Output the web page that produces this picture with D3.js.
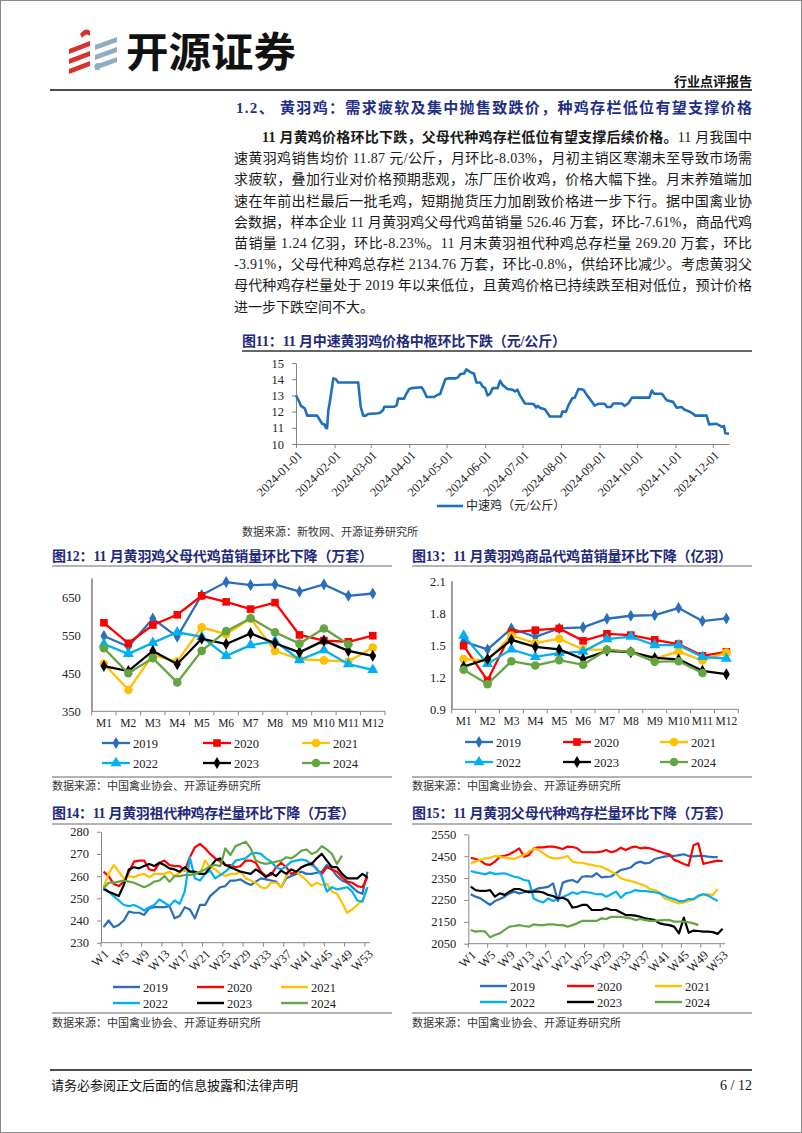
<!DOCTYPE html>
<html><head><meta charset="utf-8">
<script src="https://cdn.jsdelivr.net/npm/d3@7"></script>
<style>html,body{margin:0;padding:0;background:#fff}svg{display:block}</style>
</head><body>
<svg id="page" width="802" height="1133"></svg>
<script>
// ---------------- DATA ----------------
const priceDates = [
 "2024-01-01","2024-01-03","2024-01-05","2024-01-08","2024-01-10","2024-01-18","2024-01-20","2024-01-22","2024-01-24","2024-01-25","2024-01-26","2024-01-27","2024-01-28","2024-01-31",
 "2024-02-02","2024-02-04","2024-02-20","2024-02-22","2024-02-24","2024-02-26","2024-02-28",
 "2024-03-07","2024-03-09","2024-03-11","2024-03-12","2024-03-20","2024-03-22","2024-03-23","2024-03-28","2024-03-29",
 "2024-04-01","2024-04-03","2024-04-11","2024-04-13","2024-04-15","2024-04-21","2024-04-23","2024-04-26","2024-04-27","2024-04-30",
 "2024-05-02","2024-05-08","2024-05-10","2024-05-12","2024-05-15","2024-05-17","2024-05-19","2024-05-21","2024-05-23","2024-05-25","2024-05-28","2024-05-30",
 "2024-06-01","2024-06-03","2024-06-05","2024-06-07","2024-06-11","2024-06-13","2024-06-15","2024-06-19","2024-06-23","2024-06-25","2024-06-27","2024-06-29",
 "2024-07-03","2024-07-10","2024-07-12","2024-07-13","2024-07-16","2024-07-19","2024-07-23",
 "2024-08-01","2024-08-02","2024-08-05","2024-08-07","2024-08-10","2024-08-12","2024-08-15","2024-08-19","2024-08-22","2024-08-24","2024-08-28","2024-08-31",
 "2024-09-05","2024-09-07","2024-09-10","2024-09-12","2024-09-19","2024-09-21","2024-09-24","2024-09-27",
 "2024-10-11","2024-10-13","2024-10-15","2024-10-21","2024-10-25","2024-10-30",
 "2024-11-02","2024-11-06","2024-11-08","2024-11-13","2024-11-17","2024-11-26","2024-11-28",
 "2024-12-04","2024-12-08","2024-12-10","2024-12-11","2024-12-14"];
const priceValues = [
 13.0,12.7,12.35,12.2,11.75,11.75,11.5,11.25,11.2,11.0,10.98,12.1,12.5,14.05,
 14.0,13.8,13.8,12.3,11.75,11.75,11.85,
 11.9,11.95,12.1,12.3,12.3,12.4,12.8,12.8,13.0,
 13.4,13.45,13.5,13.25,12.9,12.9,13.0,13.1,13.35,14.0,
 14.05,14.05,14.1,14.3,14.35,14.6,14.5,14.4,14.35,13.8,13.8,13.55,
 13.45,13.0,13.1,13.45,13.45,13.9,13.65,13.4,13.35,13.25,13.35,13.0,
 12.5,12.47,12.25,12.35,12.2,12.14,11.7,
 11.7,12.0,12.0,12.4,12.82,12.85,13.4,13.35,13.0,12.8,12.37,12.48,
 12.48,12.28,12.28,12.5,12.5,12.35,12.5,12.86,
 12.86,13.3,13.1,13.1,12.7,12.6,
 12.24,12.28,12.13,11.98,11.75,11.75,11.21,
 11.25,11.07,11.1,10.66,10.63];
const priceTickDates = ["2024-01-01","2024-02-01","2024-03-01","2024-04-01","2024-05-01","2024-06-01","2024-07-01","2024-08-01","2024-09-01","2024-10-01","2024-11-01","2024-12-01"];
const priceTicks = [10,11,12,13,14,15];

const months = ["M1","M2","M3","M4","M5","M6","M7","M8","M9","M10","M11","M12"];
const years = ["2019","2020","2021","2022","2023","2024"];

// 图12 父母代鸡苗销量（万套）
const parent2019 = [548,520,594,546,656,690,682,684,665,684,654,660];
const parent2020 = [583,529,577,604,654,638,619,636,551,536,533,549];
const parent2021 = [475,406,498,481,571,553,594,509,487,484,481,518];
const parent2022 = [527,501,530,558,546,496,524,535,485,511,474,459];
const parent2023 = [469,456,509,474,541,527,555,529,505,536,509,496];
const parent2024 = [516,450,490,426,509,561,595,558,528,568,526.46];
const parentTicks = [350,450,550,650];

// 图13 商品代鸡苗销量（亿羽）
const comm2019 = [1.534,1.46,1.656,1.578,1.656,1.666,1.747,1.775,1.78,1.847,1.725,1.75];
const comm2020 = [1.494,1.17,1.62,1.64,1.656,1.54,1.606,1.594,1.55,1.51,1.40,1.438];
const comm2021 = [1.37,1.356,1.59,1.52,1.56,1.46,1.456,1.44,1.375,1.44,1.356,1.43];
const comm2022 = [1.59,1.325,1.46,1.39,1.425,1.44,1.556,1.58,1.50,1.50,1.39,1.375];
const comm2023 = [1.30,1.37,1.55,1.484,1.46,1.37,1.447,1.434,1.38,1.366,1.26,1.228];
const comm2024 = [1.27,1.135,1.35,1.31,1.36,1.316,1.456,1.437,1.344,1.35,1.24];
const commTicks = [0.9,1.2,1.5,1.8,2.1];

// weeks
const weeks = Array.from({length:53},(_, i)=>"W"+(i+1));
const weekLabels = ["W1","W5","W9","W13","W17","W21","W25","W29","W33","W37","W41","W45","W49","W53"];

// 图14 祖代种鸡存栏（万套）
const gp2019 = [237,240,237,238,240,244,243.5,243.5,242.5,245.5,246,246,246,246.5,241,242,246,245,241,247,247,251,253,255,255.5,258,258,258.5,257,256,257.5,259,258.5,258,257.5,255,259,260,261,262,261,261,261.5,262,265,263,260,258,257,255,253,252,262];
const gp2020 = [262,260,256.5,255.5,257.5,262,266.5,267,267,263,262.5,266,267,265,264.5,264.5,262.5,268.5,273,274.5,272.5,270,268,266.5,265,265,264,264.5,267,267,266,262,260,260.5,264,266,264,261,262,264,265,266,263,261,264,263,262,259.5,257.5,257,255.5,255,259.5];
const gp2021 = [255,261,265,262,259,260,259.5,260.5,261,259.5,261,261,261,262,260,261.5,263,262,261,261,267,264,263,261,260,261,261,262,259,258,257,255,254.5,257,257,255,260,263,262,260,258,255.5,257,256,256.5,253,252,248,243.5,245,247,249,255];
const gp2022 = [254,253,251,249,247,246.5,247,246,244.5,246,247,249.5,248,246.5,249,247.5,253,268.5,259,258,261,262.5,259,260.5,262,264,267,267.5,268,270,270.5,270,268,266.5,264,263,264.5,266.5,267,267.5,267,265,263.5,260,253,255,254,254.5,255,253,249,248.5,255];
const gp2023 = [254.5,253,252,251,256,263,264,263.5,264.5,265.5,264.5,266,265,263.5,263,262,264,262,262,261,261,264,267,268,265,264,263,262,261.5,261,263,261.5,259.5,261.5,260,262.5,261,263,262,264,265,265.5,268,270,267,264,264,261,259,259,259,261,259.5];
const gp2024 = [254.5,257,257,257.5,258,257.5,257,256,255,256,257.5,258,260,257.5,260,260,260.5,260.5,261,262,263,264.5,265,264.5,272.5,269.5,273.5,274.5,275.5,272.5,267,266,265.5,266,266.5,267,268.5,268,269.5,271.5,272,270,271,273.5,272,270,265.5,269.2];
const gpTicks = [230,240,250,260,270,280];

// 图15 父母代种鸡存栏（万套）
const ps2019 = [2276,2265,2257,2242,2227,2245,2254,2265,2280,2288,2280,2285,2291,2293,2303,2306,2310,2326,2245,2329,2337,2341,2330,2356,2359,2356,2372,2353,2355,2357,2372,2387,2392,2398,2417,2425,2417,2420,2437,2443,2448,2451,2451,2455,2459,2451,2449,2451,2451,2448,2446,2446];
const ps2020 = [2443,2437,2430,2414,2410,2425,2448,2452,2459,2471,2486,2448,2455,2486,2490,2490,2494,2494,2489,2483,2494,2492,2486,2468,2468,2468,2468,2471,2478,2468,2474,2489,2478,2489,2494,2486,2489,2486,2478,2471,2463,2459,2433,2425,2414,2407,2500,2509,2415,2420,2425,2430,2428];
const ps2021 = [2417,2425,2433,2440,2443,2451,2448,2443,2440,2437,2448,2455,2471,2486,2478,2463,2448,2440,2440,2443,2451,2425,2420,2420,2414,2410,2405,2402,2391,2379,2369,2349,2341,2337,2330,2323,2315,2300,2295,2285,2257,2250,2242,2234,2239,2245,2252,2265,2276,2276,2273,2300];
const ps2022 = [2382,2376,2372,2367,2376,2369,2370,2372,2364,2356,2352,2341,2337,2257,2245,2239,2257,2245,2254,2263,2273,2285,2277,2288,2285,2282,2276,2277,2265,2276,2288,2260,2280,2285,2295,2290,2290,2288,2285,2280,2270,2260,2254,2245,2245,2254,2254,2270,2276,2270,2257,2245];
const ps2023 = [2311,2295,2291,2291,2295,2265,2280,2273,2288,2300,2300,2292,2285,2288,2288,2284,2273,2268,2257,2260,2250,2215,2219,2227,2227,2204,2204,2204,2212,2204,2204,2193,2181,2181,2178,2173,2166,2163,2158,2143,2138,2135,2128,2097,2169,2100,2110,2108,2105,2105,2103,2095,2118];
const ps2024 = [2113,2105,2108,2105,2079,2090,2097,2113,2128,2131,2135,2131,2128,2138,2135,2135,2138,2138,2135,2135,2128,2135,2143,2154,2154,2154,2154,2166,2163,2173,2173,2173,2169,2166,2158,2163,2158,2154,2154,2157,2158,2158,2151,2151,2151,2148,2143,2134.76];
const psTicks = [2050,2150,2250,2350,2450,2550];

const paragraphLines = [
 "速黄羽鸡销售均价 11.87 元/公斤，月环比-8.03%，月初主销区寒潮未至导致市场需",
 "求疲软，叠加行业对价格预期悲观，冻厂压价收鸡，价格大幅下挫。月末养殖端加",
 "速在年前出栏最后一批毛鸡，短期抛货压力加剧致价格进一步下行。据中国禽业协",
 "会数据，样本企业 11 月黄羽鸡父母代鸡苗销量 526.46 万套，环比-7.61%，商品代鸡",
 "苗销量 1.24 亿羽，环比-8.23%。11 月末黄羽祖代种鸡总存栏量 269.20 万套，环比",
 "-3.91%，父母代种鸡总存栏 2134.76 万套，环比-0.8%，供给环比减少。考虑黄羽父",
 "母代种鸡存栏量处于 2019 年以来低位，且黄鸡价格已持续跌至相对低位，预计价格",
 "进一步下跌空间不大。"];

// ---------------- STYLE ----------------
const svg = d3.select("#page");
const FONT = "'Liberation Serif','Noto Sans CJK SC',serif";
const SANS = "'Noto Sans CJK SC','Noto Sans',sans-serif";
const NAVY = "#1f2a7c";
const AXIS = "#868686";
const colors = ["#2a6ebb","#ff0000","#ffc000","#00b0f0","#000000","#64a443"];
const symbols = [d3.symbolDiamond,d3.symbolSquare,d3.symbolCircle,d3.symbolTriangle,d3.symbolDiamond,d3.symbolCircle];
const symSize = [42,58,58,52,42,58];

// page frame
svg.append("rect").attr("x",0.5).attr("y",0.5).attr("width",801).attr("height",1132)
  .attr("fill","#fff").attr("stroke","#8a8a8a").attr("stroke-width",1);

// ---------------- HEADER ----------------
const logo = svg.append("g");
[0,1,2].forEach(i=>{
  const y = 40 + i*10;
  logo.append("polygon").attr("points",`69,${y+9} 90,${y+1} 90,${y+6} 69,${y+14}`).attr("fill","#d8312b");
  logo.append("polygon").attr("points",`95,${y+5} 117,${y-3} 117,${y+2} 95,${y+10}`).attr("fill","#8fadbf");
});
logo.append("path").attr("d","M80,34 Q86,27 90,31 L90,36 Q86,32 82,38 Z").attr("fill","#d8312b");
logo.append("path").attr("d","M96,70 Q92,66 97,63 L100,63 Q97,66 100,70 Z").attr("fill","#8fadbf");
svg.append("text").attr("x",126).attr("y",67).attr("font-family",SANS).attr("font-weight","bold")
  .attr("font-size",41).attr("textLength",170).attr("lengthAdjust","spacingAndGlyphs").attr("fill","#111").text("开源证券");
svg.append("text").attr("x",752).attr("y",86).attr("text-anchor","end").attr("font-family",FONT)
  .attr("font-weight","bold").attr("font-size",13).attr("fill","#111").text("行业点评报告");
svg.append("line").attr("x1",50).attr("x2",752).attr("y1",90).attr("y2",90).attr("stroke","#111").attr("stroke-width",1.5);

// section title
svg.append("text").attr("x",236).attr("y",113).attr("font-family",FONT).attr("font-weight","bold")
  .attr("font-size",15).attr("fill","#1f2f86").attr("textLength",516).attr("lengthAdjust","spacing")
  .text("1.2、 黄羽鸡：需求疲软及集中抛售致跌价，种鸡存栏低位有望支撑价格");

// paragraph
const p0 = svg.append("text").attr("x",262).attr("y",142).attr("font-family",FONT).attr("font-size",14)
  .attr("fill","#1a1a1a").attr("textLength",490).attr("lengthAdjust","spacing");
p0.append("tspan").attr("font-weight","bold").text("11 月黄鸡价格环比下跌，父母代种鸡存栏低位有望支撑后续价格。");
p0.append("tspan").text("11 月我国中");
paragraphLines.forEach((t,i)=>{
  const tx = svg.append("text").attr("x",234).attr("y",142+(i+1)*21.2).attr("font-family",FONT)
    .attr("font-size",14).attr("fill","#1a1a1a").text(t);
  if (i < paragraphLines.length-1) tx.attr("textLength",518).attr("lengthAdjust","spacing");
});

// ---------------- HELPERS ----------------
function title(x, x2, base, lineY, txt, len, lineColor, lw){
  svg.append("text").attr("x",x).attr("y",base).attr("font-family",FONT).attr("font-weight","bold")
    .attr("font-size",14).attr("fill",NAVY).attr("textLength",len).attr("lengthAdjust","spacing").text(txt);
  svg.append("line").attr("x1",x).attr("x2",x2).attr("y1",lineY).attr("y2",lineY)
    .attr("stroke",lineColor).attr("stroke-width",lw);
}
function source(x, x2, lineY, base, txt){
  if (lineY) svg.append("line").attr("x1",x).attr("x2",x2).attr("y1",lineY).attr("y2",lineY)
    .attr("stroke","#9a9a9a").attr("stroke-width",1.5);
  svg.append("text").attr("x",x).attr("y",base).attr("font-family",FONT).attr("font-size",11)
    .attr("fill","#333").text(txt);
}
function yAxis(g, y, x0, ticks, tickSize, pad, fmt){
  const ax = d3.axisLeft(y).tickValues(ticks).tickSize(tickSize).tickSizeOuter(0).tickPadding(pad).tickFormat(fmt);
  const a = g.append("g").attr("transform",`translate(${x0},0)`).call(ax);
  a.select(".domain").attr("stroke",AXIS);
  a.selectAll(".tick line").attr("stroke",AXIS);
  a.selectAll("text").attr("font-family",FONT).attr("font-size",12.5).attr("fill","#222");
  return a;
}

// ---------------- 图11 ----------------
title(242, 752, 346, 351, "图11：11 月中速黄羽鸡价格中枢环比下跌（元/公斤）", 324, "#333", 1.5);
{
  const parse = d3.timeParse("%Y-%m-%d");
  const pts = priceDates.map((d,i)=>({d:parse(d), v:priceValues[i]}));
  const x = d3.scaleTime().domain([parse("2024-01-01"), parse("2024-12-14")]).range([296,729]);
  const y = d3.scaleLinear().domain([10,15]).range([444,363]);
  const g = svg.append("g");
  yAxis(g, y, 296, priceTicks, 4, 8, d3.format("d"));
  const xa = d3.axisBottom(x).tickValues(priceTickDates.map(parse)).tickSize(4).tickSizeOuter(0).tickFormat("");
  const xg = g.append("g").attr("transform","translate(0,444)").call(xa);
  xg.select(".domain").attr("stroke",AXIS);
  xg.selectAll(".tick line").attr("stroke",AXIS);
  g.selectAll("text.xl").data(priceTickDates).join("text").attr("class","xl")
    .attr("transform",d=>`translate(${x(parse(d))+4},${453}) rotate(-45)`)
    .attr("text-anchor","end").attr("dy","0.35em").attr("font-family",FONT).attr("font-size",12.5)
    .attr("fill","#222").text(d=>d);
  g.append("path").datum(pts).attr("fill","none").attr("stroke","#1f6fbf").attr("stroke-width",2.6)
    .attr("stroke-linejoin","round").attr("d",d3.line().x(p=>x(p.d)).y(p=>y(p.v)));
  g.append("line").attr("x1",437).attr("x2",463).attr("y1",506).attr("y2",506).attr("stroke","#1f6fbf").attr("stroke-width",2.6);
  g.append("text").attr("x",466).attr("y",510).attr("font-family",FONT).attr("font-size",12).attr("fill","#222").text("中速鸡（元/公斤）");
}
source(242, 752, null, 536, "数据来源：新牧网、开源证券研究所");

// ---------------- 月度折线 ----------------
function monthChart(cfg){
  const g = svg.append("g");
  const x = d3.scaleBand().domain(months).range([cfg.x0, cfg.x1]).paddingInner(0).paddingOuter(0);
  const y = d3.scaleLinear().domain(cfg.domain).range([cfg.yb, cfg.yt]);
  yAxis(g, y, cfg.x0, cfg.ticks, 0, cfg.pad, cfg.fmt);
  g.append("line").attr("x1",cfg.x0).attr("x2",cfg.x0).attr("y1",y(cfg.domain[1])).attr("y2",cfg.yb).attr("stroke",AXIS);
  g.append("line").attr("x1",cfg.x0).attr("x2",cfg.x1).attr("y1",cfg.yb).attr("y2",cfg.yb).attr("stroke",AXIS);
  g.selectAll("line.tk").data(d3.range(months.length+1)).join("line").attr("class","tk")
    .attr("x1",i=>cfg.x0+i*x.bandwidth()).attr("x2",i=>cfg.x0+i*x.bandwidth())
    .attr("y1",cfg.yb).attr("y2",cfg.yb+4).attr("stroke",AXIS);
  g.selectAll("text.xl").data(months).join("text").attr("class","xl")
    .attr("x",m=>x(m)+x.bandwidth()/2).attr("y",cfg.yb+16).attr("text-anchor","middle")
    .attr("font-family",FONT).attr("font-size",11.5).attr("fill","#222").text(m=>m);
  const cx = (m)=>x(m)+x.bandwidth()/2;
  cfg.series.forEach((vals,si)=>{
    const pts = vals.map((v,i)=>({m:months[i], v}));
    g.append("path").datum(pts).attr("fill","none").attr("stroke",colors[si]).attr("stroke-width",2.3)
      .attr("d",d3.line().x(p=>cx(p.m)).y(p=>y(p.v)));
    g.selectAll(null).data(pts).join("path")
      .attr("transform",p=>`translate(${cx(p.m)},${y(p.v)})`)
      .attr("d",d3.symbol().type(symbols[si]).size(symSize[si])).attr("fill",colors[si]);
  });
  years.forEach((yr,si)=>{
    const lx = cfg.legX[si%3], ly = cfg.legY[Math.floor(si/3)];
    g.append("line").attr("x1",lx).attr("x2",lx+28).attr("y1",ly).attr("y2",ly).attr("stroke",colors[si]).attr("stroke-width",2.3);
    g.append("path").attr("transform",`translate(${lx+14},${ly})`).attr("d",d3.symbol().type(symbols[si]).size(symSize[si])).attr("fill",colors[si]);
    g.append("text").attr("x",lx+31).attr("y",ly+4.5).attr("font-family",FONT).attr("font-size",12.5).attr("fill","#222").text(yr);
  });
}

title(52, 392, 561, 566, "图12：11 月黄羽鸡父母代鸡苗销量环比下降（万套）", 321, "#9a9a9a", 1.5);
monthChart({x0:91.7, x1:385, yt:578.3, yb:711.3, domain:[350,700], ticks:parentTicks, pad:11, fmt:d3.format("d"),
  series:[parent2019,parent2020,parent2021,parent2022,parent2023,parent2024],
  legX:[102,203,302], legY:[743,763]});
source(52, 392, 777, 790, "数据来源：中国禽业协会、开源证券研究所");

title(412, 752, 561, 566, "图13：11 月黄羽鸡商品代鸡苗销量环比下降（亿羽）", 320, "#9a9a9a", 1.5);
monthChart({x0:451.7, x1:738.3, yt:581, yb:709.3, domain:[0.9,2.1], ticks:commTicks, pad:6, fmt:d3.format(".1f"),
  series:[comm2019,comm2020,comm2021,comm2022,comm2023,comm2024],
  legX:[465,563,660], legY:[742,762]});
source(412, 752, 777, 790, "数据来源：中国禽业协会、开源证券研究所");

// ---------------- 周度折线 ----------------
function weekChart(cfg){
  const g = svg.append("g");
  const x = d3.scaleBand().domain(weeks).range([cfg.x0, cfg.x1]).paddingInner(0).paddingOuter(0);
  const y = d3.scaleLinear().domain(cfg.domain).range([cfg.yb, cfg.yt]);
  yAxis(g, y, cfg.x0, cfg.ticks, 4, 8, d3.format("d"));
  g.append("line").attr("x1",cfg.x0).attr("x2",cfg.x1).attr("y1",cfg.yb).attr("y2",cfg.yb).attr("stroke",AXIS);
  g.selectAll("line.tk").data(d3.range(0,53,4)).join("line").attr("class","tk")
    .attr("x1",i=>cfg.x0+i*x.bandwidth()).attr("x2",i=>cfg.x0+i*x.bandwidth())
    .attr("y1",cfg.yb).attr("y2",cfg.yb+4).attr("stroke",AXIS);
  const cx = (w)=>x(w)+x.bandwidth()/2;
  g.selectAll("text.xl").data(weekLabels).join("text").attr("class","xl")
    .attr("transform",w=>`translate(${cx(w)+3},${cfg.yb+9}) rotate(-45)`)
    .attr("text-anchor","end").attr("dy","0.35em").attr("font-family",FONT).attr("font-size",12.5)
    .attr("fill","#222").text(w=>w);
  cfg.series.forEach((vals,si)=>{
    const pts = vals.map((v,i)=>({w:weeks[i], v}));
    g.append("path").datum(pts).attr("fill","none").attr("stroke",colors[si]).attr("stroke-width",2.2)
      .attr("stroke-linejoin","round").attr("d",d3.line().x(p=>cx(p.w)).y(p=>y(p.v)));
  });
  years.forEach((yr,si)=>{
    const lx = cfg.legX[si%3], ly = cfg.legY[Math.floor(si/3)];
    g.append("line").attr("x1",lx).attr("x2",lx+27).attr("y1",ly).attr("y2",ly).attr("stroke",colors[si]).attr("stroke-width",2.4);
    g.append("text").attr("x",lx+30).attr("y",ly+4.5).attr("font-family",FONT).attr("font-size",12.5).attr("fill","#222").text(yr);
  });
}

title(52, 392, 818, 824, "图14：11 月黄羽祖代种鸡存栏量环比下降（万套）", 303, "#9a9a9a", 1.5);
weekChart({x0:101, x1:370, yt:831.7, yb:942.7, domain:[230,280], ticks:gpTicks,
  series:[gp2019,gp2020,gp2021,gp2022,gp2023,gp2024], legX:[113,197,281], legY:[987,1003]});
source(52, 392, 1013, 1027, "数据来源：中国禽业协会、开源证券研究所");

title(412, 752, 818, 824, "图15：11 月黄羽父母代种鸡存栏量环比下降（万套）", 320, "#9a9a9a", 1.5);
weekChart({x0:468.3, x1:725, yt:834.3, yb:943.7, domain:[2050,2550], ticks:psTicks,
  series:[ps2019,ps2020,ps2021,ps2022,ps2023,ps2024], legX:[480,567,655], legY:[986,1002]});
source(412, 752, 1013, 1027, "数据来源：中国禽业协会、开源证券研究所");

// ---------------- FOOTER ----------------
svg.append("line").attr("x1",50).attr("x2",752).attr("y1",1070).attr("y2",1070).attr("stroke","#111").attr("stroke-width",1.5);
svg.append("text").attr("x",51).attr("y",1090).attr("font-family",FONT).attr("font-size",13).attr("fill","#111")
  .text("请务必参阅正文后面的信息披露和法律声明");
svg.append("text").attr("x",752).attr("y",1090).attr("text-anchor","end").attr("font-family",FONT)
  .attr("font-size",14).attr("fill","#111").text("6 / 12");
</script>
</body></html>
